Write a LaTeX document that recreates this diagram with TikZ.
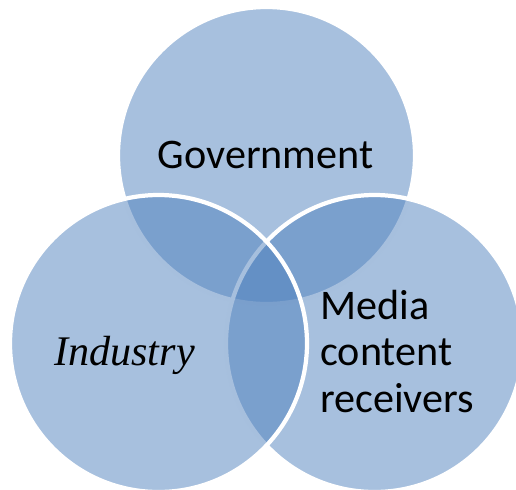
\documentclass[tikz,border=0pt]{standalone}
\usepackage{fontspec}
\usepackage{tikz}
\newfontfamily\calibri{Carlito}
\newfontfamily\romanit{Liberation Serif}
\definecolor{setblue}{RGB}{79,129,189}

\begin{document}
\begin{tikzpicture}
\tikzstyle{set}=[circle,draw=white,line width=3pt,fill=setblue,fill opacity=0.5,minimum size=7.425cm,inner sep=0pt]
\tikzstyle{settext}=[inner sep=0pt,font=\calibri\fontsize{30}{33}\selectfont]

\useasboundingbox (0,0) rectangle (12.9,12.225);
\clip (0,0) rectangle (12.9,12.225);

% the three sets, top one first, left one last
\node[set] (gov) at (6.6625,8.3375) {};
\node[set] (med) at (9.3625,3.6375) {};
\node[set] (ind) at (3.9625,3.6375) {};

\node[settext,anchor=base] (govtext) at (6.64,8.025) {Government};
\node[settext,anchor=base west,align=left] (medtext) at (8.0,1.925) {Media\\content\\receivers};
\node[settext,anchor=base west,font=\romanit\itshape\fontsize{30}{33}\selectfont] (indtext) at (1.35,3.08) {Industry};

\end{tikzpicture}
\end{document}
